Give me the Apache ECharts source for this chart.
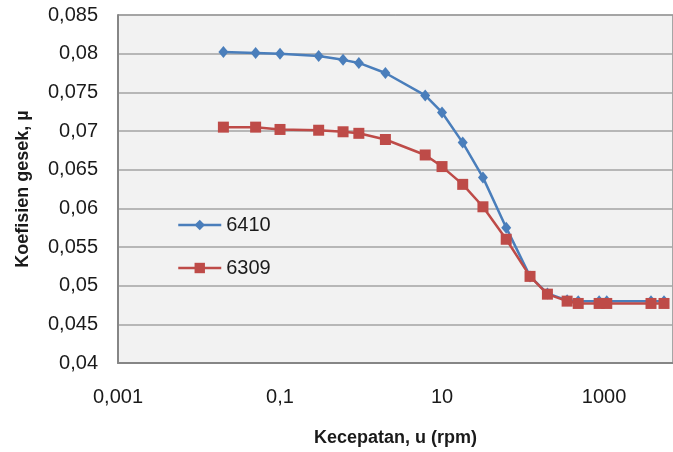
<!DOCTYPE html>
<html>
<head>
<meta charset="utf-8">
<script src="https://cdn.jsdelivr.net/npm/echarts@6/dist/echarts.min.js"></script>
<style>
  html, body { margin: 0; padding: 0; background: #fff; }
  #main { width: 673px; height: 452px; }
</style>
</head>
<body>
<div id="main"></div>
<script>
// kecepatan (rpm), sumbu x log
var speeds = [0.02, 0.05, 0.1, 0.3, 0.6, 0.94, 2, 6.2, 10, 18, 32, 62, 122, 200, 350, 480, 870, 1080, 3800, 5500];
// koefisien gesek
var mu6410 = [0.0802, 0.0801, 0.0800, 0.0797, 0.0792, 0.0788, 0.0775, 0.0746, 0.0724, 0.0685, 0.0640, 0.0575, 0.0512, 0.0490, 0.0481, 0.0480, 0.0480, 0.0480, 0.0480, 0.0480];
var mu6309 = [0.0705, 0.0705, 0.0702, 0.0701, 0.0699, 0.0697, 0.0689, 0.0669, 0.0654, 0.0631, 0.0602, 0.0560, 0.0512, 0.0489, 0.0480, 0.0477, 0.0477, 0.0477, 0.0477, 0.0477];
var xLabels = [0.001, 0.1, 10, 1000];
var seriesNames = ['6410', '6309'];

var font = 'Liberation Sans';

function pairs(ys) {
  return speeds.map(function (x, i) { return [x, ys[i]]; });
}

var chartDom = document.getElementById('main');
var myChart = echarts.init(chartDom);
var option;

option = {
  backgroundColor: '#fff',
  animation: false,
  grid: {
    left: 118,
    top: 15,
    right: 0,
    bottom: 89,
    show: true,
    backgroundColor: '#f2f2f2',
    borderColor: '#5a5a5a',
    borderWidth: 1
  },
  legend: {
    data: seriesNames,
    orient: 'vertical',
    left: 172,
    top: 210,
    itemWidth: 43,
    itemHeight: 13,
    itemGap: 23,
    lineStyle: { width: 2.5 },
    textStyle: {
      color: '#1a1a1a',
      fontFamily: font,
      fontSize: 20
    }
  },
  xAxis: {
    type: 'log',
    logBase: 10,
    min: 0.001,
    max: 7100,
    name: 'Kecepatan, u (rpm)',
    nameLocation: 'middle',
    nameGap: 66,
    nameTextStyle: {
      color: '#1a1a1a',
      fontFamily: font,
      fontSize: 18,
      fontWeight: 'bold'
    },
    axisTick: { show: false },
    splitLine: { show: false },
    axisLine: {
      show: true,
      lineStyle: { color: '#868686', width: 2 }
    },
    axisLabel: {
      margin: 24,
      color: '#1a1a1a',
      fontFamily: font,
      fontSize: 20,
      showMaxLabel: false,
      formatter: function (v) {
        for (var i = 0; i < xLabels.length; i++) {
          if (Math.abs(Math.log10(v) - Math.log10(xLabels[i])) < 1e-6) {
            return String(xLabels[i]).replace('.', ',');
          }
        }
        return '';
      }
    }
  },
  yAxis: {
    type: 'value',
    min: 0.04,
    max: 0.085,
    interval: 0.005,
    name: 'Koefisien gesek, µ',
    nameLocation: 'middle',
    nameGap: 86,
    nameTextStyle: {
      color: '#1a1a1a',
      fontFamily: font,
      fontSize: 18,
      fontWeight: 'bold'
    },
    axisTick: { show: false },
    axisLine: {
      show: true,
      lineStyle: { color: '#868686', width: 2 }
    },
    splitLine: {
      show: true,
      lineStyle: { color: '#a3a3a3', width: 1.5 }
    },
    axisLabel: {
      margin: 20,
      color: '#1a1a1a',
      fontFamily: font,
      fontSize: 20,
      formatter: function (v) {
        return String(parseFloat(v.toFixed(3))).replace('.', ',');
      }
    }
  },
  series: [
    {
      name: seriesNames[0],
      type: 'line',
      data: pairs(mu6410),
      symbol: 'diamond',
      symbolSize: [10, 12],
      itemStyle: { color: '#4a7ebb' },
      lineStyle: { color: '#4a7ebb', width: 2.5 }
    },
    {
      name: seriesNames[1],
      type: 'line',
      data: pairs(mu6309),
      symbol: 'rect',
      symbolSize: 11,
      itemStyle: { color: '#be4b48' },
      lineStyle: { color: '#be4b48', width: 2.5 }
    }
  ]
};

option && myChart.setOption(option);
</script>
</body>
</html>
